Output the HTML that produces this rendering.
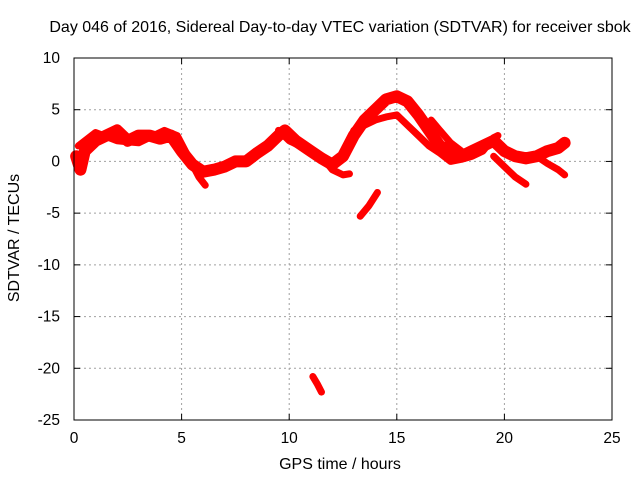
<!DOCTYPE html>
<html><head><meta charset="utf-8"><style>
body{margin:0;background:#fff}
svg{display:block;font-family:"Liberation Sans",sans-serif;font-size:15.5px}
</style></head><body>
<svg id="c" width="640" height="480"></svg>
<script>
const xTicks=[0,5,10,15,20,25];
const yTicks=[10,5,0,-5,-10,-15,-20,-25];
const seriesMain=[[0.1,0.5],[0.3,-0.8],[0.5,1],[1,2],[1.5,2.5],[2,3],[2.5,2],[3,2.5],[3.5,2.5],[4,2.2],[4.5,2.5],[5,1],[5.5,-0.3],[6,-1],[6.5,-0.8],[7,-0.5],[7.5,0],[8,0],[8.5,0.8],[9,1.5],[9.5,2.5],[9.8,3],[10.3,2],[11,1],[11.5,0.3],[12,-0.3],[12.5,0.5],[13,2.5],[13.5,4],[14,5],[14.5,6],[15,6.3],[15.5,5.8],[16,4.5],[16.5,3],[17,1.5],[17.5,1],[18,0.5],[18.5,1],[19,1.5],[19.5,2],[20,1],[20.5,0.5],[21,0.3],[21.5,0.5],[22,1],[22.5,1.3],[22.8,1.8]];
const seriesB=[[0.2,1.5],[1,2.8],[2,2],[3,1.8],[4.2,3],[4.8,2.5],[5.3,0.5],[5.8,-1.5],[6.1,-2.3]];
const seriesC=[[9.5,3],[10,2],[10.5,1.5],[11,1],[11.5,0.5],[12,-0.8],[12.5,-1.3],[12.8,-1.2]];
const seriesD=[[13,3],[13.5,3.5],[14,4],[14.5,4.3],[15,4.5],[15.5,3.5],[16,2.5],[16.5,1.5],[17,0.8],[17.5,0],[18,0.2],[18.5,0.5],[19,1],[19.5,2.3],[19.7,2.5]];
const seriesE=[[13.3,-5.3],[13.7,-4.3],[14.1,-3]];
const seriesF=[[11.1,-20.8],[11.3,-21.5],[11.5,-22.3]];
const seriesG=[[16.6,4],[17,3],[17.5,1.8],[18,1]];
const seriesH=[[19.5,0.5],[20,-0.5],[20.5,-1.5],[21,-2.2]];
const seriesI=[[21.5,0.5],[22,-0.2],[22.5,-0.8],[22.8,-1.3]];
const allSeries=[seriesMain,seriesB,seriesC,seriesD,seriesE,seriesF,seriesG,seriesH,seriesI];

const X0=74,X1=612,Y0=58,Y1=420;
const sx=v=>X0+(v-0)/(25-0)*(X1-X0);
const sy=v=>Y0+(10-v)/(10-(-25))*(Y1-Y0);
const svg=document.getElementById('c');
const NS='http://www.w3.org/2000/svg';
function mk(t,a,p){const e=document.createElementNS(NS,t);for(const k in a)e.setAttribute(k,a[k]);(p||svg).appendChild(e);return e;}

xTicks.forEach(v=>{
  if(v>0&&v<25){const g=mk('line',{x1:sx(v),x2:sx(v),y1:Y0,y2:Y1,stroke:'#a0a0a0','stroke-dasharray':'2,3'});
  
  }
  const t=mk('text',{x:sx(v),y:Y1+23,'text-anchor':'middle',fill:'#000'});t.textContent=v;
  
  
  mk('line',{x1:sx(v),x2:sx(v),y1:Y1,y2:Y1-6,stroke:'#000'});
  mk('line',{x1:sx(v),x2:sx(v),y1:Y0,y2:Y0+6,stroke:'#000'});
});
yTicks.forEach(v=>{
  if(v<10&&v>-25){const g=mk('line',{x1:X0,x2:X1,y1:sy(v),y2:sy(v),stroke:'#a0a0a0','stroke-dasharray':'2,3'});
  
  }
  const t=mk('text',{x:X0-14,y:sy(v)+5,'text-anchor':'end',fill:'#000'});t.textContent=v;
  
  
  mk('line',{x1:X0,x2:X0+6,y1:sy(v),y2:sy(v),stroke:'#000'});
  mk('line',{x1:X1,x2:X1-6,y1:sy(v),y2:sy(v),stroke:'#000'});
});
allSeries.forEach((s,i)=>{
  const p=mk('polyline',{points:s.map(d=>sx(d[0])+','+sy(d[1])).join(' '),fill:'none',stroke:'#ff0000','stroke-width':(i===0?12:7),'stroke-linejoin':'round','stroke-linecap':'round'});
  
  
});
const fr=mk('rect',{x:X0,y:Y0,width:X1-X0,height:Y1-Y0,fill:'none',stroke:'#000'});


</script>
<div style="position:absolute;left:0;top:0;width:640px;height:480px;pointer-events:none;font-family:'Liberation Sans',sans-serif;font-size:16px">
<div style="position:absolute;left:0;width:680px;top:19px;text-align:center;white-space:nowrap">Day 046 of 2016, Sidereal Day-to-day VTEC variation (SDTVAR) for receiver sbok</div>
<div style="position:absolute;left:240px;width:200px;top:456px;text-align:center">GPS time / hours</div>
<div style="position:absolute;left:-85px;width:200px;top:229px;text-align:center;transform:rotate(-90deg)">SDTVAR / TECUs</div>
</div>
</body></html>
